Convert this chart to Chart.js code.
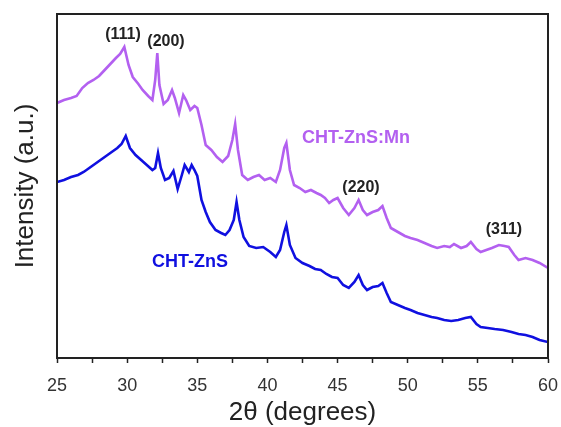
<!DOCTYPE html>
<html>
<head>
<meta charset="utf-8">
<script src="https://cdn.jsdelivr.net/npm/chart.js@4.4.1/dist/chart.umd.min.js"></script>
<style>
  html, body { margin: 0; padding: 0; background: #fff; }
  #wrap { width: 561px; height: 427px; }
</style>
</head>
<body>
<div id="wrap"><canvas id="xrdChart" width="561" height="427"></canvas></div>
<script>
// CHT-ZnS:Mn (purple)
var mnAngles = [25.0, 25.5, 26.0, 26.4, 26.8, 27.2, 27.6, 28.0, 28.4, 28.8, 29.2, 29.5, 29.8, 30.1, 30.4, 30.8, 31.1, 31.5, 31.8,
  32.0, 32.15, 32.3, 32.6, 32.9, 33.2, 33.4, 33.7, 34.0, 34.2, 34.5, 34.8, 35.0, 35.3, 35.6, 36.0, 36.4, 36.8, 37.2, 37.5,
  37.7, 37.9, 38.2, 38.6, 39.0, 39.4, 39.8, 40.2, 40.6, 40.9, 41.2, 41.35, 41.6, 41.9, 42.3, 42.7, 43.1, 43.5, 43.8, 44.1,
  44.4, 44.7, 45.0, 45.4, 45.8, 46.2, 46.5, 46.8, 47.1, 47.5, 47.9, 48.2, 48.5, 48.8, 49.3, 49.8, 50.2, 50.7, 51.2, 51.7,
  52.1, 52.6, 53.0, 53.3, 53.8, 54.2, 54.5, 54.9, 55.2, 55.6, 56.0, 56.5, 56.9, 57.2, 57.6, 57.9, 58.4, 58.9, 59.4, 60.0];
var mnIntensity = [255, 258, 260, 262, 270, 275, 278, 282, 288, 294, 300, 304, 311, 293, 281, 274, 268, 262, 258,
  278, 305, 273, 254, 258, 268, 260, 245, 263, 258, 248, 252, 250, 233, 213, 208, 201, 196, 202, 218,
  234, 208, 183, 178, 181, 183, 178, 180, 176, 188, 210, 215, 188, 173, 170, 166, 168, 165, 163, 160,
  155, 158, 160, 150, 143, 150, 158, 148, 143, 146, 148, 152, 140, 130, 126, 122, 120, 118, 115, 112,
  110, 112, 111, 114, 110, 112, 116, 109, 106, 108, 110, 113, 112, 111, 103, 98, 100, 98, 95, 90];

// CHT-ZnS (blue)
var znsAngles = [25.0, 25.5, 26.0, 26.5, 26.9, 27.3, 27.7, 28.1, 28.5, 28.9, 29.3, 29.6, 29.9, 30.2, 30.6, 31.0, 31.4, 31.8,
  32.0, 32.2, 32.4, 32.7, 33.0, 33.3, 33.6, 33.9, 34.1, 34.4, 34.6, 34.8, 35.0, 35.3, 35.6, 35.9, 36.3, 36.7, 37.0, 37.3,
  37.6, 37.8, 38.0, 38.3, 38.7, 39.2, 39.7, 40.2, 40.6, 40.9, 41.2, 41.35, 41.6, 42.0, 42.5, 43.0, 43.4, 43.8, 44.2, 44.6,
  45.0, 45.4, 45.8, 46.2, 46.5, 46.8, 47.1, 47.5, 47.9, 48.2, 48.5, 48.8, 49.3, 49.8, 50.2, 50.7, 51.2, 51.7, 52.1, 52.6,
  53.1, 53.6, 54.1, 54.5, 54.9, 55.2, 55.7, 56.2, 56.8, 57.4, 57.9, 58.4, 58.9, 59.4, 60.0];
var znsIntensity = [176, 178, 181, 183, 186, 190, 194, 198, 202, 206, 210, 214, 222, 210, 203, 198, 193, 188,
  190, 205, 190, 178, 180, 187, 169, 183, 193, 186, 193, 188, 182, 158, 146, 136, 128, 125, 123, 128,
  138, 156, 138, 121, 112, 110, 111, 106, 101, 108, 126, 133, 113, 100, 95, 92, 89, 88, 84, 81,
  80, 73, 70, 76, 83, 73, 68, 71, 72, 75, 65, 56, 53, 50, 48, 45, 43, 41, 40, 38,
  37, 38, 40, 41, 34, 31, 30, 29, 28, 26, 24, 23, 21, 18, 16];

var xTicks = [25, 30, 35, 40, 45, 50, 55, 60];

// peak / sample labels (in data units)
var annotations = [
  { text: '(111)', x: 29.7, y: 323, color: '#222', font: 'bold 16px "Liberation Sans", Arial, sans-serif' },
  { text: '(200)', x: 32.77, y: 316, color: '#222', font: 'bold 16px "Liberation Sans", Arial, sans-serif' },
  { text: '(220)', x: 46.67, y: 170, color: '#222', font: 'bold 16px "Liberation Sans", Arial, sans-serif' },
  { text: '(311)', x: 56.86, y: 128, color: '#222', font: 'bold 16px "Liberation Sans", Arial, sans-serif' },
  { text: 'CHT-ZnS:Mn', x: 46.31, y: 220, color: '#b360f0', font: 'bold 18px "Liberation Sans", Arial, sans-serif' },
  { text: 'CHT-ZnS', x: 34.48, y: 96, color: '#1010e0', font: 'bold 18px "Liberation Sans", Arial, sans-serif' }
];

function toPoints(xs, ys) {
  return xs.map(function(x, i) { return { x: x, y: ys[i] }; });
}

var frameAndLabels = {
  id: 'frameAndLabels',
  afterDatasetsDraw: function(chart) {
    var ctx = chart.ctx;
    var area = chart.chartArea;
    var xs = chart.scales.x;
    var ys = chart.scales.y;
    ctx.save();
    ctx.strokeStyle = '#222';
    ctx.lineWidth = 2;
    ctx.strokeRect(area.left, area.top, area.right - area.left, area.bottom - area.top);
    ctx.textAlign = 'center';
    ctx.textBaseline = 'middle';
    annotations.forEach(function(a) {
      ctx.font = a.font;
      ctx.fillStyle = a.color;
      ctx.fillText(a.text, xs.getPixelForValue(a.x), ys.getPixelForValue(a.y));
    });
    ctx.restore();
  }
};

var ctx = document.getElementById('xrdChart').getContext('2d');
new Chart(ctx, {
  type: 'line',
  data: {
    datasets: [{
      label: 'CHT-ZnS:Mn',
      data: toPoints(mnAngles, mnIntensity),
      borderColor: '#b360f0',
      borderWidth: 2.6,
      pointRadius: 0,
      tension: 0
    }, {
      label: 'CHT-ZnS',
      data: toPoints(znsAngles, znsIntensity),
      borderColor: '#1010e0',
      borderWidth: 2.6,
      pointRadius: 0,
      tension: 0
    }]
  },
  options: {
    responsive: false,
    animation: false,
    layout: {
      padding: { top: 14, right: 13, left: 0, bottom: 0 }
    },
    plugins: {
      legend: { display: false },
      tooltip: { enabled: false }
    },
    scales: {
      x: {
        type: 'linear',
        min: 25,
        max: 60,
        afterBuildTicks: function(scale) {
          var t = [];
          for (var v = 25; v <= 60; v += 2.5) t.push({ value: v });
          scale.ticks = t;
        },
        afterFit: function(scale) {
          scale.height = 69;
          scale.paddingLeft = 0;
          scale.paddingRight = 0;
        },
        grid: {
          drawOnChartArea: false,
          drawTicks: true,
          tickLength: 5,
          tickWidth: 1.5,
          tickColor: '#222'
        },
        border: { color: '#222', width: 2 },
        ticks: {
          color: '#333',
          padding: 12,
          maxRotation: 0,
          autoSkip: false,
          font: { family: '"Liberation Sans", Arial, sans-serif', size: 18 },
          callback: function(value) {
            return xTicks.indexOf(value) >= 0 ? String(value) : '';
          }
        },
        title: {
          display: true,
          text: '2θ (degrees)',
          color: '#222',
          padding: { top: 0, bottom: 1 },
          font: { family: '"Liberation Sans", Arial, sans-serif', size: 26, lineHeight: 1 }
        }
      },
      y: {
        min: 0,
        max: 344,
        afterFit: function(scale) {
          scale.width = 57;
          scale.paddingTop = 0;
          scale.paddingBottom = 0;
        },
        grid: { display: false, drawTicks: false },
        border: { color: '#222', width: 2 },
        ticks: { display: false },
        title: {
          display: true,
          text: 'Intensity (a.u.)',
          color: '#222',
          padding: { top: 13, bottom: 0 },
          font: { family: '"Liberation Sans", Arial, sans-serif', size: 26, lineHeight: 1 }
        }
      }
    }
  },
  plugins: [frameAndLabels]
});
</script>
</body>
</html>
